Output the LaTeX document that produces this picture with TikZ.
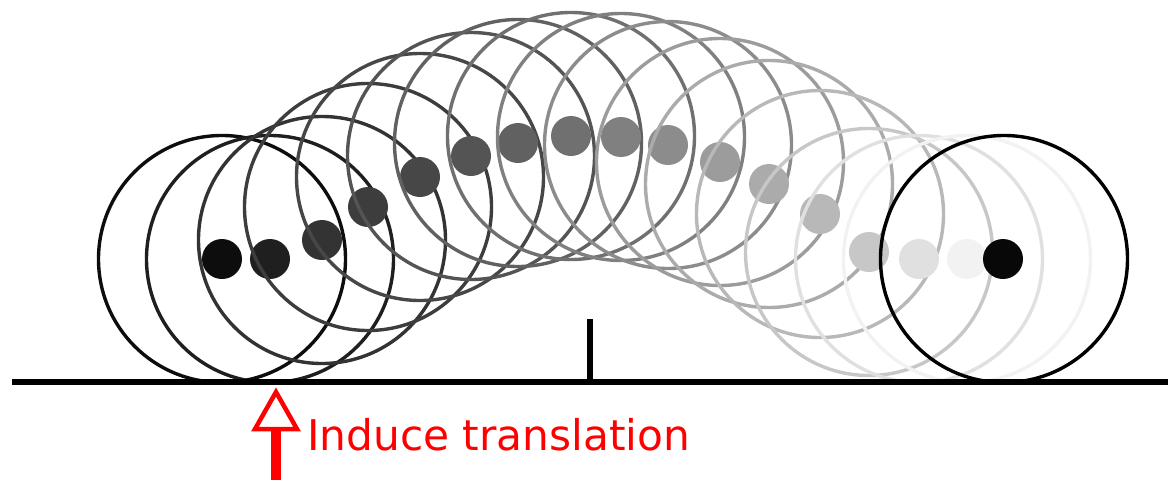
\documentclass[tikz,border=0pt]{standalone}
\usepackage{fontspec}
\newfontfamily\labelfont{DejaVu Sans}
\begin{document}
\begin{tikzpicture}[x=1pt,y=-1pt,
  ring/.style={circle,draw,line width=3.4pt,minimum size=247pt,inner sep=0pt},
  blob/.style={circle,fill,minimum size=40pt,inner sep=0pt},
  ground/.style={line width=5.5pt,black},
  hint/.style={red}]
\useasboundingbox (0,0) rectangle (1176,480);
\foreach \i/\x/\y/\g in {1/222/259/5, 2/270/259/12, 3/322/240/20, 4/368/207/24,
  5/420/177/28, 6/471/156/33, 7/518/143/38, 8/571/136/44, 9/621/137/50,
  10/668/145/55, 11/720/162/61, 12/769/184/67, 13/820/214/72, 14/869/252/78,
  15/919/259/88, 16/967/259/95}{
  \colorlet{fr}{white!\g!black}
  \node[ring,draw=fr] (c\i) at (\x,\y) {};
  \node[blob,fill=fr] (d\i) at (\x,\y) {};
}
\node[ring,draw=black] (clast) at (1004,259) {};
\node[blob,fill=black!97] (dlast) at (1003,259) {};
% ground line and tick
\coordinate (gl) at (12,382);
\coordinate (gr) at (1168,382);
\coordinate (tb) at (590,382);
\coordinate (tt) at (590,319);
\draw[ground] (gl) -- (gr);
\draw[ground] (tb) -- (tt);
% arrow
\coordinate (sb) at (276,480);
\coordinate (st) at (276,429);
\draw[red,line width=10pt] (sb) -- (st);
\coordinate (hl) at (255,429);
\coordinate (hr) at (297,429);
\coordinate (ht) at (276,392);
\draw[red,line width=4.5pt,line join=miter] (hl) -- (hr) -- (ht) -- cycle;
\node[hint,anchor=base west,inner sep=0pt,font=\labelfont\fontsize{42.3}{42.3}\selectfont] (lbl) at (307,450) {Induce translation};
\end{tikzpicture}
\end{document}
